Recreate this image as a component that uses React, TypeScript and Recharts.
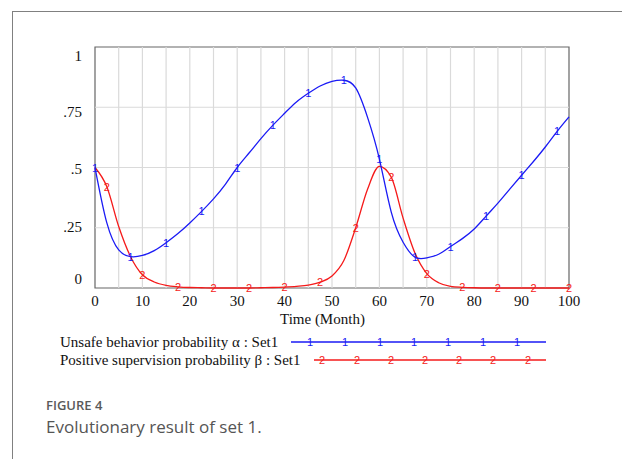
import React from 'react';
import { LineChart, Line, XAxis, YAxis, ReferenceLine, ReferenceArea } from 'recharts';

// time axis, months
const months = [
  0, 2.5, 5, 7.5, 10, 12.5, 15, 17.5, 20, 22.5, 25, 27.5, 30, 32.5, 35, 37.5, 40,
  42.5, 45, 47.5, 50, 52.5, 55, 57.5, 60, 62.5, 65, 67.5, 70, 72.5, 75, 77.5, 80,
  82.5, 85, 87.5, 90, 92.5, 95, 97.5, 100,
];

// Unsafe behavior probability α
const alpha = [
  0.5, 0.27, 0.158, 0.13, 0.135, 0.155, 0.188, 0.226, 0.27, 0.318, 0.37, 0.43, 0.5,
  0.56, 0.62, 0.675, 0.725, 0.772, 0.808, 0.838, 0.857, 0.862, 0.83, 0.708, 0.535,
  0.315, 0.19, 0.128, 0.125, 0.14, 0.172, 0.205, 0.245, 0.298, 0.352, 0.41, 0.468,
  0.525, 0.585, 0.65, 0.71,
];

// Positive supervision probability β
const beta = [
  0.5, 0.42, 0.255, 0.13, 0.055, 0.025, 0.011, 0.005, 0.002, 0.001, 0, 0, 0, 0,
  0.001, 0.002, 0.004, 0.007, 0.012, 0.024, 0.05, 0.114, 0.25, 0.41, 0.505, 0.46,
  0.29, 0.145, 0.06, 0.022, 0.007, 0.003, 0.001, 0, 0, 0, 0, 0, 0, 0, 0,
];

const xTicks = [0, 10, 20, 30, 40, 50, 60, 70, 80, 90, 100];
const xGrid = [5, 10, 15, 20, 25, 30, 35, 40, 45, 50, 55, 60, 65, 70, 75, 80, 85, 90, 95];
const yTicks = [0, 0.25, 0.5, 0.75, 1];
const yGrid = [0.25, 0.5, 0.75];
const yLabels: Record<string, string> = { '0': '0', '0.25': '.25', '0.5': '.5', '0.75': '.75', '1': '1' };
// vensim nudges its y labels toward the middle
const yNudge: Record<string, number> = { '0': -9, '0.25': -1, '0.5': 1, '0.75': 5, '1': 9 };

const data = months.map((t, i) => ({ t, alpha: alpha[i], beta: beta[i] }));

const BLUE = '#1a1af5';
const RED = '#f51a1a';
const SERIF = '"Liberation Serif", "DejaVu Serif", serif';
const MARK = '"Liberation Sans", Arial, sans-serif';

const XTick = ({ x, y, payload }: any) => (
  <text x={x} y={y} dy={13} textAnchor="middle" dominantBaseline="central"
    fontFamily={SERIF} fontSize={15} fill="#111">{payload.value}</text>
);

const YTick = ({ x, y, payload }: any) => (
  <text x={x - 13} y={y + (yNudge[String(payload.value)] ?? 0)} textAnchor="end" dominantBaseline="central"
    fontFamily={SERIF} fontSize={15} fill="#111">{yLabels[String(payload.value)]}</text>
);

// number markers every third point, like vensim's "1" / "2" labels
const marker = (label: string, color: string, phase: number) => (props: any) => {
  const { cx, cy, index } = props;
  if (index % 3 !== phase || cx == null || cy == null) return <g key={`m${label}${index}`} />;
  return (
    <text key={`m${label}${index}`} x={cx} y={cy} textAnchor="middle" dominantBaseline="central"
      fontFamily={MARK} fontSize={11} fill={color}>{label}</text>
  );
};

const legendRows = [
  { name: 'Unsafe behavior probability α : Set1', color: BLUE, label: '1', x0: 231, marks: [19, 54, 89, 123, 157, 192, 226] },
  { name: 'Positive supervision probability β : Set1', color: RED, label: '2', x0: 254, marks: [8, 43, 77, 111, 145, 179, 214] },
];

const LegendBox = () => (
  <div style={{ fontFamily: SERIF, fontSize: 15, color: '#111', lineHeight: '18px' }}>
    {legendRows.map((r) => (
      <div key={r.name} style={{ position: 'relative', height: 18, whiteSpace: 'nowrap' }}>
        <span>{r.name}</span>
        <svg style={{ position: 'absolute', left: r.x0, top: 0 }} width={486 - r.x0} height={18}>
          <line x1={0} x2={486 - r.x0} y1={9} y2={9} stroke={r.color} strokeWidth={1.3} />
          {r.marks.map((m) => (
            <text key={m} x={m} y={9} textAnchor="middle" dominantBaseline="central"
              fontFamily={MARK} fontSize={11} fill={r.color}>{r.label}</text>
          ))}
        </svg>
      </div>
    ))}
  </div>
);

export default function App() {
  return (
    <div style={{ position: 'absolute', left: 0, top: 0, width: 622, height: 459, background: '#fff', overflow: 'hidden' }}>
      <div style={{ position: 'absolute', left: 12, top: 11, width: 620, height: 460, borderTop: '1.5px solid #808080', borderLeft: '1.5px solid #808080' }} />
      <LineChart width={622} height={459} data={data} margin={{ top: 47, right: 53, bottom: 151, left: 75 }}>
        {xGrid.map((g) => (
          <ReferenceLine key={`x${g}`} x={g} stroke="#dadada" strokeWidth={1.2} />
        ))}
        {yGrid.map((g) => (
          <ReferenceLine key={`y${g}`} y={g} stroke="#dadada" strokeWidth={1.2} />
        ))}
        <ReferenceArea x1={0} x2={100} y1={0} y2={1} fill="none" stroke="#666" strokeWidth={1.2} />
        <XAxis dataKey="t" type="number" domain={[0, 100]} ticks={xTicks} height={20}
          axisLine={false} tickLine={false} tickSize={0} tickMargin={0} tick={<XTick />} interval={0} />
        <YAxis type="number" domain={[0, 1]} ticks={yTicks} width={20}
          axisLine={false} tickLine={false} tickSize={0} tickMargin={0} tick={<YTick />} interval={0} />
        <Line type="monotone" dataKey="beta" stroke={RED} strokeWidth={1.3} dot={marker('2', RED, 1)}
          activeDot={false} isAnimationActive={false} />
        <Line type="natural" dataKey="alpha" stroke={BLUE} strokeWidth={1.3} dot={marker('1', BLUE, 0)}
          activeDot={false} isAnimationActive={false} />
      </LineChart>
      <div style={{ position: 'absolute', left: 60, top: 333, width: 500 }}>
        <LegendBox />
      </div>
      <div style={{ position: 'absolute', left: 280, top: 311, fontFamily: SERIF, fontSize: 15, color: '#111' }}>Time (Month)</div>
      <div style={{ position: 'absolute', left: 46, top: 396, fontFamily: '"Open Sans", sans-serif', fontSize: 13, fontWeight: 600, color: '#5a5a5a' }}>FIGURE 4</div>
      <div style={{ position: 'absolute', left: 46, top: 415, fontFamily: '"Open Sans", sans-serif', fontSize: 17, color: '#555' }}>Evolutionary result of set 1.</div>
    </div>
  );
}
